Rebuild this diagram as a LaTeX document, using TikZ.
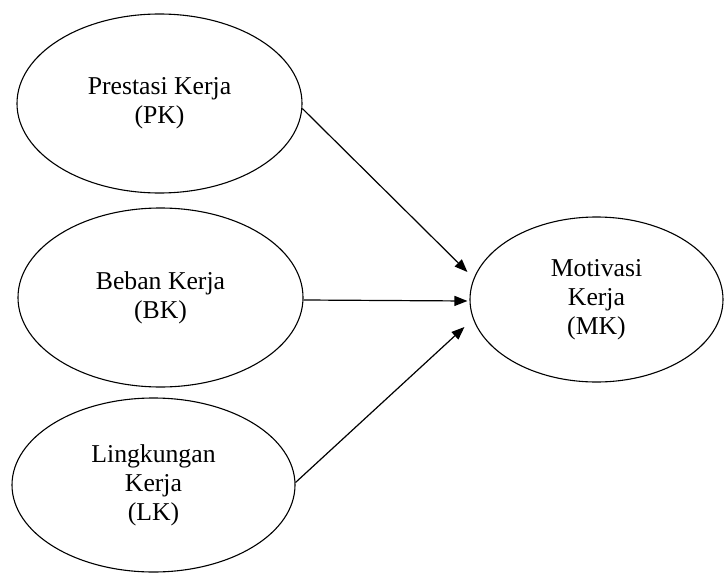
\documentclass[tikz,border=0pt]{standalone}
\usepackage{fontspec}
\setmainfont{Liberation Serif}
\usetikzlibrary{shapes.geometric,arrows.meta,calc}
\begin{document}
\begin{tikzpicture}[x=1pt,y=-1pt,
  var/.style={ellipse, draw, line width=1.1pt, inner sep=0pt, align=center,
    font=\fontsize{25.7}{29}\selectfont},
  arr/.style={line width=1.2pt, -{Triangle[length=13pt,width=10pt]}}]
\useasboundingbox (0,0) rectangle (724,573);
\node[var, minimum width=285pt, minimum height=179pt] (pk) at (159.5,103.5) {Prestasi Kerja\\(PK)};
\node[var, minimum width=285pt, minimum height=179pt] (bk) at (160.5,297.5) {Beban Kerja\\(BK)};
\node[var, minimum width=283pt, minimum height=174pt] (lk) at (153.5,485) {Lingkungan\\Kerja\\(LK)};
\node[var, minimum width=253pt, minimum height=165pt] (mk) at (596.5,299.5) {Motivasi\\Kerja\\(MK)};
\coordinate (e1) at ($(mk.west)+(-2,-27.5)$);
\coordinate (e2) at ($(mk.west)+(-2,1.5)$);
\coordinate (e3) at ($(mk.west)+(-5,27.5)$);
\draw[arr] (pk.-2) -- (e1);
\draw[arr] (bk.-1.2) -- (e2);
\draw[arr] (lk.1) -- (e3);
\end{tikzpicture}
\end{document}
